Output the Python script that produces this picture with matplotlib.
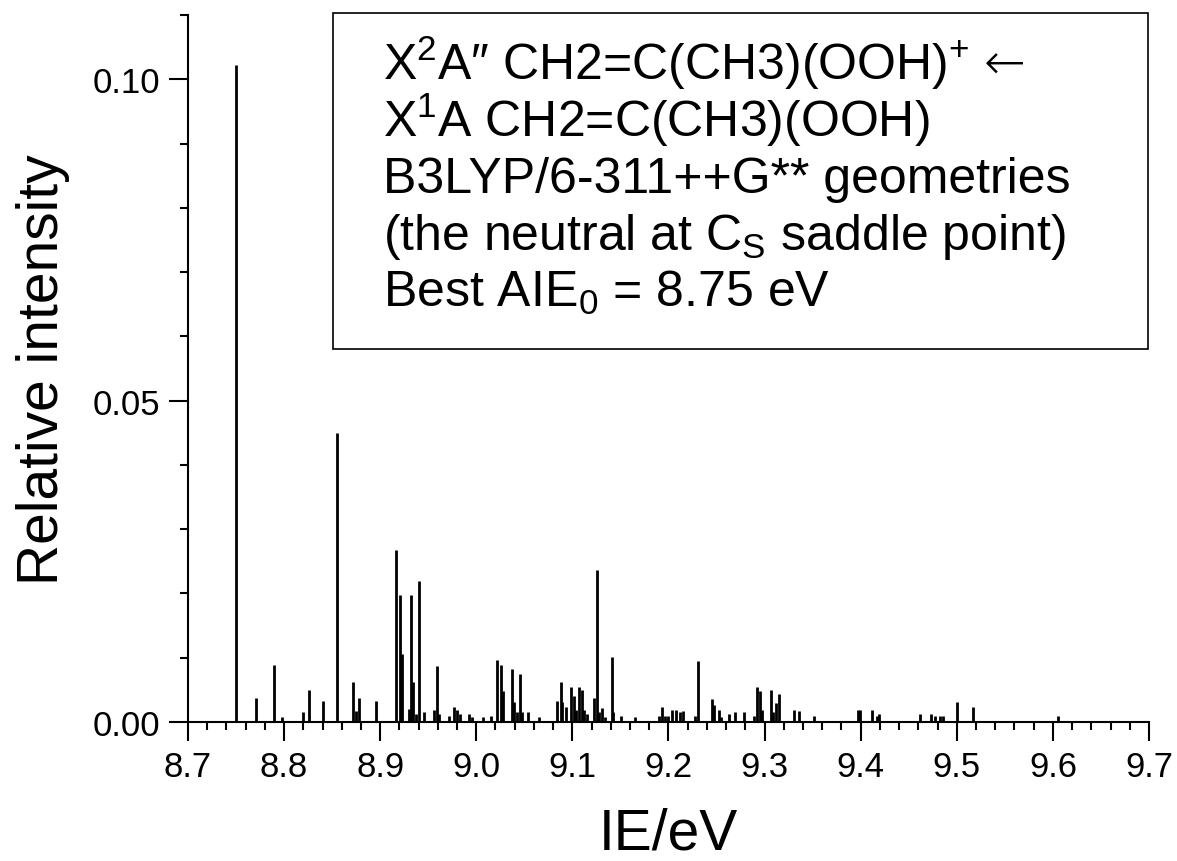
import numpy as np
import matplotlib
matplotlib.use('Agg')
import matplotlib.pyplot as plt
from matplotlib.ticker import MultipleLocator

plt.rcParams['font.family'] = ['Liberation Sans', 'DejaVu Sans']
plt.rcParams['mathtext.fontset'] = 'custom'
plt.rcParams['mathtext.rm'] = 'Liberation Sans'
plt.rcParams['mathtext.it'] = 'Liberation Sans:italic'

# stick positions (eV) and relative intensities
ie = [8.750, 8.7705, 8.790, 8.798, 8.820, 8.8256, 8.841, 8.855, 8.872, 8.875,
      8.878, 8.896, 8.9164, 8.9206, 8.923, 8.9296, 8.9317, 8.9338, 8.937, 8.940,
      8.9456, 8.9563, 8.9594, 8.961, 8.972, 8.977, 8.9796, 8.983, 8.9927, 8.9959,
      9.0066, 9.015, 9.022, 9.026, 9.028, 9.0368, 9.0396, 9.042, 9.0455, 9.048,
      9.0535, 9.0656, 9.0836, 9.0878, 9.0895, 9.0933, 9.0985, 9.1017, 9.104, 9.1072,
      9.1096, 9.1124, 9.1155, 9.1228, 9.1253, 9.1277, 9.1311, 9.134, 9.1409, 9.1426,
      9.1503, 9.1655, 9.1905, 9.193, 9.196, 9.199, 9.204, 9.2075, 9.212, 9.2154,
      9.2273, 9.2304, 9.2453, 9.2477, 9.2523, 9.255, 9.263, 9.2692, 9.2786, 9.2893,
      9.2924, 9.2952, 9.2976, 9.3063, 9.309, 9.3115, 9.3147, 9.3309, 9.3355, 9.3518,
      9.397, 9.3995, 9.4114, 9.4166, 9.419, 9.462, 9.473, 9.4773, 9.4825, 9.4856,
      9.4999, 9.5165, 9.605]
intensity = [0.1022, 0.0037, 0.0089, 0.0008, 0.0015, 0.0050, 0.0033, 0.0450, 0.0062, 0.0017,
             0.0037, 0.0033, 0.0267, 0.0198, 0.0105, 0.0020, 0.0197, 0.0062, 0.0012, 0.0219,
             0.0015, 0.0019, 0.0087, 0.0012, 0.0010, 0.0024, 0.0019, 0.0012, 0.0012, 0.0008,
             0.0008, 0.0010, 0.0097, 0.0089, 0.0048, 0.0083, 0.0031, 0.0015, 0.0075, 0.0015,
             0.0015, 0.0008, 0.0033, 0.0062, 0.0031, 0.0023, 0.0055, 0.0041, 0.0019, 0.0055,
             0.0050, 0.0019, 0.0012, 0.0037, 0.0236, 0.0016, 0.0021, 0.0008, 0.0101, 0.0015,
             0.0010, 0.0008, 0.0010, 0.0023, 0.0010, 0.0010, 0.0019, 0.0019, 0.0015, 0.0017,
             0.0010, 0.0095, 0.0035, 0.0027, 0.0019, 0.0008, 0.0012, 0.0015, 0.0015, 0.0010,
             0.0054, 0.0048, 0.0019, 0.0050, 0.0015, 0.0029, 0.0044, 0.0019, 0.0017, 0.0010,
             0.0018, 0.0018, 0.0019, 0.0010, 0.0012, 0.0012, 0.0012, 0.0010, 0.0010, 0.0010,
             0.0031, 0.0023, 0.0010]

info_lines = [
    'X$^{2}$A\u2033 CH2=C(CH3)(OOH)$^{+}$',
    'X$^{1}$A CH2=C(CH3)(OOH)',
    'B3LYP/6-311++G** geometries',
    '(the neutral at C$_{\\mathrm{S}}$ saddle point)',
    'Best AIE$_{0}$ = 8.75 eV',
]

fig = plt.figure(figsize=(11.77, 8.62), dpi=100)
ax = fig.add_axes([0.1597, 0.1613, 0.8165, 0.8201])

ax.vlines(ie, 0, intensity, color='black', lw=2.0)

ax.set_xlim(8.7, 9.7)
ax.set_ylim(0, 0.11)
ax.xaxis.set_major_locator(MultipleLocator(0.1))
ax.xaxis.set_minor_locator(MultipleLocator(0.02))
ax.yaxis.set_major_locator(MultipleLocator(0.05))
ax.yaxis.set_minor_locator(MultipleLocator(0.01))
ax.xaxis.set_major_formatter(plt.FuncFormatter(lambda v, p: f'{v:.1f}'))
ax.yaxis.set_major_formatter(plt.FuncFormatter(lambda v, p: f'{v:.2f}'))
ax.tick_params(which='major', direction='out', length=14, width=1.5, labelsize=25, pad=6)
ax.tick_params(which='minor', direction='out', length=6, width=1.5)
for s in ['top', 'right']:
    ax.spines[s].set_visible(False)
for s in ['left', 'bottom']:
    ax.spines[s].set_linewidth(1.5)

ax.set_xlabel('IE/eV', fontsize=41, labelpad=17)
ax.set_ylabel('Relative intensity', fontsize=41, labelpad=16)

# info box
box = plt.Rectangle((0.283, 0.594), 0.692, 0.390, transform=fig.transFigure,
                    fill=False, edgecolor='black', lw=1.2)
fig.add_artist(box)
baselines = [80, 137, 193, 250, 307]
texts = []
for txt, b in zip(info_lines, baselines):
    texts.append(fig.text(0.325, 1 - b / 862, txt, fontsize=36, va='baseline', ha='left'))

# long arrow after the first line
fig.canvas.draw()
bb = texts[0].get_window_extent()
fig.text((bb.x1 + 14) / fig.bbox.width, 1 - 66 / 862, '\u2190', fontsize=36,
         family='DejaVu Sans', fontweight='light', va='center', ha='left')

fig.savefig('out.png', dpi=100)
